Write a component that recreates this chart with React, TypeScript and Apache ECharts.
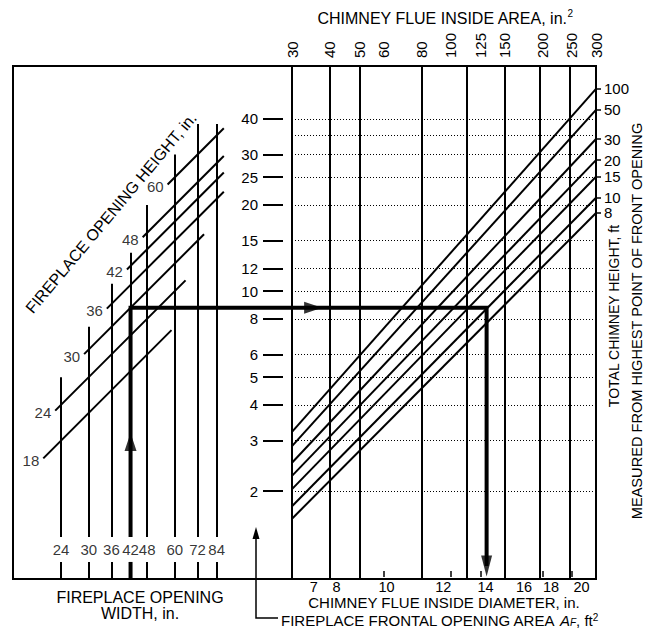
import React, { useEffect, useRef } from "react";
import * as echarts from "echarts";

// Chimney flue inside area scale (top), in.²
const flueAreaTicks = [30, 40, 50, 60, 80, 100, 125, 150, 200, 250, 300];
// Flue size boundaries drawn as full-height rules, in.²
const flueAreaRules = [30, 40, 50, 80, 113, 150, 196, 245, 300];
// Chimney flue inside diameter (bottom), in., and where each label sits on the area scale
const flueDiameters = [7, 8, 10, 12, 14, 16, 18, 20];
const flueDiameterAreas = [35.4, 42, 61.4, 94.4, 130, 174, 213.5, 269];

// Fireplace frontal opening area A_F, ft²
const openingAreaTicks = [2, 3, 4, 5, 6, 8, 10, 12, 15, 20, 25, 30, 40];
const openingAreaRules = [2, 3, 4, 5, 6, 8, 10, 12, 15, 20, 25, 30, 35, 40];

// Total chimney height lines, ft: A_F where each meets the 30 in.² and 300 in.² edges
const chimneyHeights = [100, 50, 30, 20, 15, 10, 8];
const chimneyAFAt30 = [3.22, 2.87, 2.51, 2.26, 2.03, 1.77, 1.6];
const chimneyAFAt300 = [50.9, 43.0, 34.0, 28.7, 25.1, 21.2, 18.75];

// Fireplace opening width, in., and the A_F where each width rule stops
const openingWidths = [24, 30, 36, 42, 48, 60, 72, 84];
const widthRuleTopAF = [5.0, 7.5, 10.6, 13.6, 20, 30, 38.4, 38.4];

// Fireplace opening height lines, in.: [width in., A_F ft²] at each end
const openingHeights = [18, 24, 30, 36, 42, 48, 60];
const heightLineStart = [
  [20.8, 2.6], [22.9, 3.82], [28.9, 6.02], [34.7, 8.68], [40.8, 11.9], [46.3, 15.43], [56.6, 23.58],
];
const heightLineEnd = [
  [58.4, 7.3], [65.4, 10.9], [75.9, 15.8], [89, 22.25], [89, 25.96], [89, 29.67], [89, 37.08],
];

// Worked example: 42 in. wide x 30 in. high opening, 10 ft chimney
const exampleWidth = 42;
const exampleAF = 8.75;
const exampleFlueArea = 131;

// Axis extents (log scales share px per decade between the two panels)
const AF_MIN = 0.985;
const AF_MAX = 61.2;
const W_MIN = 16.3;
const W_MAX = 154.1;
const AREA_MIN = 30;
const AREA_MAX = 300;

// Where the width labels sit and the gap left in the width rules for them
const WIDTH_LABEL_AF = 1.25;
const WIDTH_GAP = [1.13, 1.38];
// Arrowhead centres along the example path
const UP_ARROW_AF = 2.97;
const RIGHT_ARROW_AREA = 35.2;
const DOWN_ARROW_AF = 1.094;

const FONT = "'Liberation Sans', Arial, Helvetica, sans-serif";
const INK = "#000";
const lg = Math.log10;

const lookup = (vals: number[], labels: (number | string)[]) => (v: number) => {
  const i = vals.findIndex((x) => Math.abs(lg(x) - v) < 1e-6);
  return i < 0 ? "" : String(labels[i]);
};

const seg = (x1: number, y1: number, x2: number, y2: number) => ({
  coords: [
    [lg(x1), lg(y1)],
    [lg(x2), lg(y2)],
  ],
});

function buildOption(): any {
  const label15 = { fontSize: 15, color: INK, fontFamily: FONT };

  const linesBase = {
    type: "lines",
    coordinateSystem: "cartesian2d",
    silent: true,
  };

  return {
    animation: false,
    backgroundColor: "#fff",
    textStyle: { fontFamily: FONT, color: INK },
    grid: [
      { left: 13, top: 66, width: 279, height: 513, show: true, borderColor: INK, borderWidth: 2, backgroundColor: "transparent" },
      { left: 292, top: 66, width: 304, height: 513, show: true, borderColor: INK, borderWidth: 2, backgroundColor: "transparent" },
    ],
    xAxis: [
      { gridIndex: 0, type: "value", min: lg(W_MIN), max: lg(W_MAX), show: false },
      {
        gridIndex: 1,
        type: "value",
        position: "top",
        min: lg(AREA_MIN),
        max: lg(AREA_MAX),
        axisLine: { show: false },
        axisTick: { show: true, customValues: flueAreaTicks.map(lg), length: 6, lineStyle: { color: INK, width: 1.5 } },
        axisLabel: { ...label15, customValues: flueAreaTicks.map(lg), rotate: 90, margin: 8, formatter: lookup(flueAreaTicks, flueAreaTicks) },
        splitLine: { show: false },
      },
      {
        gridIndex: 1,
        type: "value",
        position: "bottom",
        min: lg(AREA_MIN),
        max: lg(AREA_MAX),
        axisLine: { show: false },
        axisTick: { show: false },
        axisLabel: { ...label15, fontSize: 14.5, lineHeight: 12, customValues: flueDiameterAreas.map(lg), margin: 2, formatter: lookup(flueDiameterAreas, flueDiameters) },
        splitLine: { show: false },
      },
    ],
    yAxis: [
      { gridIndex: 0, type: "value", min: lg(AF_MIN), max: lg(AF_MAX), show: false },
      {
        gridIndex: 1,
        type: "value",
        position: "left",
        offset: 9,
        min: lg(AF_MIN),
        max: lg(AF_MAX),
        axisLine: { show: false },
        axisTick: { show: true, customValues: openingAreaTicks.map(lg), length: 20, lineStyle: { color: INK, width: 2 } },
        axisLabel: { ...label15, customValues: openingAreaTicks.map(lg), margin: 25, formatter: lookup(openingAreaTicks, openingAreaTicks) },
        splitLine: { show: false },
      },
      {
        gridIndex: 1,
        type: "value",
        position: "right",
        min: lg(AF_MIN),
        max: lg(AF_MAX),
        axisLine: { show: false },
        axisTick: { show: true, customValues: chimneyAFAt300.map(lg), length: 5, lineStyle: { color: INK, width: 1.5 } },
        axisLabel: { ...label15, customValues: chimneyAFAt300.map(lg), margin: 8, formatter: lookup(chimneyAFAt300, chimneyHeights) },
        splitLine: { show: false },
      },
    ],
    series: [
      // dotted A_F rules across the flue panel
      {
        ...linesBase,
        xAxisIndex: 1,
        yAxisIndex: 1,
        z: 2,
        lineStyle: { color: INK, width: 1, type: [1, 2], opacity: 1 },
        data: openingAreaRules.map((v) => seg(AREA_MIN, v, AREA_MAX, v)),
      },
      // flue size rules
      {
        ...linesBase,
        xAxisIndex: 1,
        yAxisIndex: 1,
        z: 3,
        lineStyle: { color: INK, width: 2, opacity: 1 },
        data: flueAreaRules.map((a) => seg(a, AF_MIN, a, AF_MAX)),
      },
      // chimney height lines
      {
        ...linesBase,
        xAxisIndex: 1,
        yAxisIndex: 1,
        z: 3,
        lineStyle: { color: INK, width: 2, opacity: 1 },
        data: chimneyHeights.map((_, i) => seg(AREA_MIN, chimneyAFAt30[i], AREA_MAX, chimneyAFAt300[i])),
      },
      // opening width rules, broken around their labels
      {
        ...linesBase,
        xAxisIndex: 0,
        yAxisIndex: 0,
        z: 3,
        lineStyle: { color: INK, width: 2, opacity: 1 },
        data: openingWidths.flatMap((w, i) => [
          seg(w, AF_MIN, w, WIDTH_GAP[0]),
          seg(w, WIDTH_GAP[1], w, widthRuleTopAF[i]),
        ]),
      },
      // opening height lines
      {
        ...linesBase,
        xAxisIndex: 0,
        yAxisIndex: 0,
        z: 3,
        lineStyle: { color: INK, width: 2, opacity: 1 },
        data: openingHeights.map((_, i) =>
          seg(heightLineStart[i][0], heightLineStart[i][1], heightLineEnd[i][0], heightLineEnd[i][1])
        ),
      },
      // worked example path, left panel
      {
        ...linesBase,
        xAxisIndex: 0,
        yAxisIndex: 0,
        z: 5,
        polyline: true,
        lineStyle: { color: INK, width: 4, opacity: 1, join: "miter" },
        data: [
          { coords: [[lg(exampleWidth), lg(AF_MIN)], [lg(exampleWidth), lg(WIDTH_GAP[0])]] },
          {
            coords: [
              [lg(exampleWidth), lg(WIDTH_GAP[1])],
              [lg(exampleWidth), lg(exampleAF)],
              [lg(W_MAX), lg(exampleAF)],
            ],
          },
        ],
      },
      // worked example path, flue panel
      {
        ...linesBase,
        xAxisIndex: 1,
        yAxisIndex: 1,
        z: 5,
        polyline: true,
        lineStyle: { color: INK, width: 4, opacity: 1, join: "miter" },
        data: [
          {
            coords: [
              [lg(AREA_MIN), lg(exampleAF)],
              [lg(exampleFlueArea), lg(exampleAF)],
              [lg(exampleFlueArea), lg(DOWN_ARROW_AF)],
            ],
          },
        ],
      },
      // arrowheads
      {
        type: "scatter",
        xAxisIndex: 0,
        yAxisIndex: 0,
        z: 6,
        silent: true,
        symbol: "triangle",
        symbolSize: [12, 18],
        itemStyle: { color: INK },
        data: [{ value: [lg(exampleWidth), lg(UP_ARROW_AF)], symbolRotate: 0 }],
      },
      {
        type: "scatter",
        xAxisIndex: 1,
        yAxisIndex: 1,
        z: 6,
        silent: true,
        symbol: "triangle",
        itemStyle: { color: INK },
        data: [
          { value: [lg(RIGHT_ARROW_AREA), lg(exampleAF)], symbolRotate: -90, symbolSize: [12, 18] },
          { value: [lg(exampleFlueArea), lg(DOWN_ARROW_AF)], symbolRotate: 180, symbolSize: [11, 21] },
        ],
      },
      // opening width labels
      {
        type: "scatter",
        xAxisIndex: 0,
        yAxisIndex: 0,
        z: 6,
        silent: true,
        symbolSize: 2,
        itemStyle: { color: "rgba(0,0,0,0)" },
        label: {
          show: true,
          position: "inside",
          ...label15,
          formatter: (p: any) => String(p.data[2]),
        },
        data: openingWidths.map((w) => [lg(w), lg(WIDTH_LABEL_AF), w]),
      },
      // opening height labels
      {
        type: "scatter",
        xAxisIndex: 0,
        yAxisIndex: 0,
        z: 6,
        silent: true,
        symbolSize: 2,
        itemStyle: { color: "rgba(0,0,0,0)" },
        label: {
          show: true,
          position: "left",
          distance: 3,
          offset: [0, 2],
          ...label15,
          formatter: (p: any) => String(p.data[2]),
        },
        data: openingHeights.map((h, i) => [lg(heightLineStart[i][0]), lg(heightLineStart[i][1]), h]),
      },
    ],
    graphic: [
      {
        type: "text",
        x: 445,
        y: 18,
        style: {
          text: "CHIMNEY FLUE INSIDE AREA, in.{sup|2}",
          fontSize: 16,
          fontFamily: FONT,
          fill: INK,
          align: "center",
          verticalAlign: "middle",
          lineHeight: 20,
          rich: { sup: { fontSize: 10, lineHeight: 10, verticalAlign: "top", fontFamily: FONT, fill: INK } },
        },
      },
      {
        type: "text",
        x: 444,
        y: 602.5,
        style: {
          text: "CHIMNEY FLUE INSIDE DIAMETER, in.",
          fontSize: 15,
          lineHeight: 13,
          fontFamily: FONT,
          fill: INK,
          align: "center",
          verticalAlign: "middle",
        },
      },
      {
        type: "text",
        x: 281,
        y: 620,
        style: {
          text: "FIREPLACE FRONTAL OPENING AREA {it|A}{sub|F}, ft{sup|2}",
          fontSize: 15,
          fontFamily: FONT,
          fill: INK,
          align: "left",
          verticalAlign: "middle",
          lineHeight: 15,
          rich: {
            it: { fontSize: 15, fontStyle: "italic", fontFamily: FONT, fill: INK },
            sub: { fontSize: 10, lineHeight: 10, fontStyle: "italic", verticalAlign: "bottom", fontFamily: FONT, fill: INK },
            sup: { fontSize: 10, lineHeight: 10, verticalAlign: "top", fontFamily: FONT, fill: INK },
          },
        },
      },
      {
        type: "polyline",
        shape: { points: [[278, 618], [256, 618], [256, 537]] },
        style: { stroke: INK, lineWidth: 1.5, fill: null },
      },
      {
        type: "polygon",
        shape: { points: [[256, 527], [252.5, 539], [259.5, 539]] },
        style: { fill: INK },
      },
      {
        type: "text",
        x: 140,
        y: 605,
        style: {
          text: "FIREPLACE OPENING\nWIDTH, in.",
          fontSize: 16,
          lineHeight: 16,
          fontFamily: FONT,
          fill: INK,
          align: "center",
          verticalAlign: "middle",
        },
      },
      {
        type: "text",
        x: 111,
        y: 213,
        rotation: (50 * Math.PI) / 180,
        style: {
          text: "FIREPLACE OPENING HEIGHT, in.",
          fontSize: 16,
          fontFamily: FONT,
          fill: INK,
          align: "center",
          verticalAlign: "middle",
        },
      },
      {
        type: "text",
        x: 614,
        y: 316,
        rotation: Math.PI / 2,
        style: {
          text: "TOTAL CHIMNEY HEIGHT, ft",
          fontSize: 14,
          fontFamily: FONT,
          fill: INK,
          align: "center",
          verticalAlign: "middle",
        },
      },
      {
        type: "text",
        x: 637,
        y: 321,
        rotation: Math.PI / 2,
        style: {
          text: "MEASURED FROM HIGHEST POINT OF FRONT OPENING",
          fontSize: 14.6,
          fontFamily: FONT,
          fill: INK,
          align: "center",
          verticalAlign: "middle",
        },
      },
    ],
  };
}

export default function App() {
  const ref = useRef<HTMLDivElement>(null);
  useEffect(() => {
    if (!ref.current) return;
    const chart = echarts.init(ref.current, null, { renderer: "svg" });
    chart.setOption(buildOption());
    return () => chart.dispose();
  }, []);
  return (
    <div
      ref={ref}
      style={{ position: "fixed", left: 0, top: 0, width: 645, height: 634, background: "#fff" }}
    />
  );
}
